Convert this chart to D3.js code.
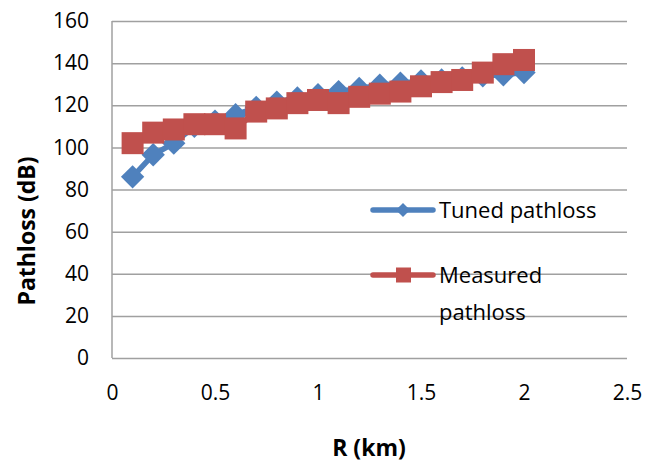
<!DOCTYPE html>
<html>
<head>
<meta charset="utf-8">
<script src="https://cdn.jsdelivr.net/npm/d3@7"></script>
<style>
  body { margin: 0; background: #fff; }
  #chart text { font-family: "Open Sans", sans-serif; fill: #000; }
  .grid line { stroke: #a0a0a0; stroke-width: 1.5px; }
  .line { fill: none; stroke-width: 5.5px; }
</style>
</head>
<body>
<div id="chart"></div>
<script>
var distance = [0.1, 0.2, 0.3, 0.4, 0.5, 0.6, 0.7, 0.8, 0.9, 1.0,
  1.1, 1.2, 1.3, 1.4, 1.5, 1.6, 1.7, 1.8, 1.9, 2.0];
var tunedPathloss = [86, 96.5, 102, 110, 112.5, 115.5, 119, 121.5, 123.5, 125,
  126.5, 128, 129.5, 130.5, 131.5, 132, 133, 134, 134.5, 135.5];
var measuredPathloss = [102, 107, 108.5, 111, 111, 109, 117, 118.5, 121, 122.5,
  121, 124, 125.5, 126.5, 129, 131, 132, 135.5, 139.5, 141.5];
var xTicks = [0, 0.5, 1, 1.5, 2, 2.5];
var yTicks = [0, 20, 40, 60, 80, 100, 120, 140, 160];

var margin = { top: 21, right: 34, bottom: 108, left: 112 };
var width = 661 - margin.left - margin.right;
var height = 466 - margin.top - margin.bottom;

var blue = "#4f81bd";
var red = "#c0504d";

var data = distance.map(function (d, i) {
  return { r: d, tuned: tunedPathloss[i], measured: measuredPathloss[i] };
});

var x = d3.scaleLinear().domain([0, 2.5]).range([0, width]);
var y = d3.scaleLinear().domain([0, 160]).range([height, 0]);

var svg = d3.select("#chart").append("svg")
  .attr("width", 661)
  .attr("height", 466)
  .append("g")
  .attr("transform", "translate(" + margin.left + "," + margin.top + ")");

// gridlines + y labels
var yAxis = d3.axisLeft(y)
  .tickValues(yTicks)
  .tickSize(-width)
  .tickPadding(23)
  .tickFormat(d3.format("d"));

var gy = svg.append("g").attr("class", "grid").call(yAxis);
gy.select(".domain").remove();
gy.selectAll("text").style("font-size", "21px");

// left axis line
svg.append("line")
  .attr("x1", 0).attr("x2", 0)
  .attr("y1", 0).attr("y2", height)
  .attr("stroke", "#a0a0a0")
  .attr("stroke-width", 1.5);

var xAxis = d3.axisBottom(x)
  .tickValues(xTicks)
  .tickSize(0)
  .tickPadding(27)
  .tickFormat(function (d) { return d; });

var gx = svg.append("g")
  .attr("transform", "translate(0," + height + ")")
  .call(xAxis);
gx.select(".domain").remove();
gx.selectAll("text").style("font-size", "21px");

var tunedLine = d3.line()
  .x(function (d) { return x(d.r); })
  .y(function (d) { return y(d.tuned); });

var measuredLine = d3.line()
  .x(function (d) { return x(d.r); })
  .y(function (d) { return y(d.measured); });

var diamond = d3.symbol().type(d3.symbolSquare).size(16.5 * 16.5);

svg.append("path")
  .datum(data)
  .attr("class", "line")
  .attr("stroke", blue)
  .attr("d", tunedLine);

svg.selectAll(".tuned")
  .data(data)
  .enter().append("path")
  .attr("class", "tuned")
  .attr("fill", blue)
  .attr("d", diamond)
  .attr("transform", function (d) {
    return "translate(" + x(d.r) + "," + y(d.tuned) + ") rotate(45)";
  });

svg.append("path")
  .datum(data)
  .attr("class", "line")
  .attr("stroke", red)
  .attr("d", measuredLine);

svg.selectAll(".measured")
  .data(data)
  .enter().append("rect")
  .attr("class", "measured")
  .attr("fill", red)
  .attr("x", function (d) { return x(d.r) - 11; })
  .attr("y", function (d) { return y(d.measured) - 11; })
  .attr("width", 22)
  .attr("height", 22);

// legend
var legend = svg.append("g")
  .attr("transform", "translate(" + (373 - margin.left) + "," + (210 - margin.top) + ")");

legend.append("line")
  .attr("x1", 0).attr("x2", 60)
  .attr("stroke", blue).attr("stroke-width", 5.5)
  .attr("stroke-linecap", "round");
legend.append("path")
  .attr("fill", blue)
  .attr("d", d3.symbol().type(d3.symbolSquare).size(10 * 10))
  .attr("transform", "translate(30,0) rotate(45)");
legend.append("text")
  .attr("x", 66).attr("dy", "0.35em")
  .style("font-size", "22px")
  .text("Tuned pathloss");

var legend2 = legend.append("g").attr("transform", "translate(0,65)");
legend2.append("line")
  .attr("x1", 0).attr("x2", 60)
  .attr("stroke", red).attr("stroke-width", 5.5)
  .attr("stroke-linecap", "round");
legend2.append("rect")
  .attr("x", 23).attr("y", -7.5)
  .attr("width", 15).attr("height", 15)
  .attr("fill", red);
legend2.append("text")
  .attr("x", 66).attr("dy", "0.35em")
  .style("font-size", "22px")
  .text("Measured");
legend2.append("text")
  .attr("x", 66).attr("y", 37).attr("dy", "0.35em")
  .style("font-size", "22px")
  .text("pathloss");

// axis titles
svg.append("text")
  .attr("transform", "translate(" + (27 - margin.left) + "," + (231 - margin.top) + ") rotate(-90)")
  .attr("text-anchor", "middle")
  .attr("dy", "0.35em")
  .style("font-size", "23px")
  .style("font-weight", "bold")
  .text("Pathloss (dB)");

svg.append("text")
  .attr("x", 369 - margin.left)
  .attr("y", 448 - margin.top)
  .attr("text-anchor", "middle")
  .attr("dy", "0.35em")
  .style("font-size", "23px")
  .style("font-weight", "bold")
  .text("R (km)");
</script>
</body>
</html>
